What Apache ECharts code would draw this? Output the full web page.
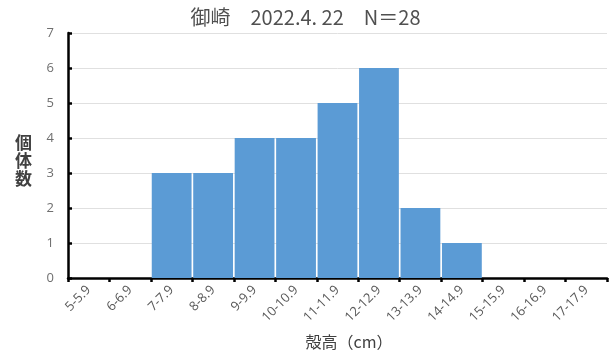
<!DOCTYPE html>
<html>
<head>
<meta charset="utf-8">
<script src="https://cdn.jsdelivr.net/npm/echarts@6/dist/echarts.min.js"></script>
<style>
  html, body { margin: 0; padding: 0; background: #fff; }
  #chart { width: 611px; height: 358px; }
</style>
</head>
<body>
<div id="chart"></div>
<script>
// Shell height classes (cm) and the number of individuals in each
const sizeClasses = ['5-5.9', '6-6.9', '7-7.9', '8-8.9', '9-9.9', '10-10.9', '11-11.9',
  '12-12.9', '13-13.9', '14-14.9', '15-15.9', '16-16.9', '17-17.9'];
const counts = [0, 0, 3, 3, 4, 4, 5, 6, 2, 1, 0, 0, 0];
const titleText = '御崎　2022.4. 22　N＝28';
const xAxisName = '殻高（cm）';
const yAxisName = '個\n体\n数';

const fontFamily = '"Noto Sans CJK JP", "Noto Sans", sans-serif';
const chart = echarts.init(document.getElementById('chart'), null, { renderer: 'canvas' });

chart.setOption({
  animation: false,
  backgroundColor: '#ffffff',
  title: [{
    text: titleText,
    left: 'center',
    top: 2,
    textStyle: { fontFamily, fontSize: 20, fontWeight: 'normal', color: '#505050' }
  }, {
    // vertical y-axis caption, one character per line
    text: yAxisName,
    left: 10,
    top: 129,
    textStyle: { fontFamily, fontSize: 17, fontWeight: 'bold', color: '#404040', lineHeight: 18 }
  }],
  grid: { left: 68, right: 4, top: 33, bottom: 80 },
  xAxis: {
    type: 'category',
    data: sizeClasses,
    name: xAxisName,
    nameLocation: 'middle',
    nameGap: 56,
    nameTextStyle: { fontFamily, fontSize: 16, color: '#404040', padding: [0, 0, 0, 23] },
    axisLine: { lineStyle: { color: '#000', width: 2.5 } },
    axisTick: { show: true, alignWithLabel: false, length: 4, lineStyle: { color: '#000', width: 2.5 } },
    axisLabel: { rotate: 45, fontFamily: '"Open Sans", sans-serif', fontSize: 13, color: '#595959', margin: 10, interval: 0 }
  },
  yAxis: {
    type: 'value',
    min: 0,
    max: 7,
    interval: 1,
    axisLine: { show: true, lineStyle: { color: '#000', width: 2.5 } },
    axisTick: { show: true, inside: true, length: 4, lineStyle: { color: '#000', width: 2.5 } },
    axisLabel: { fontFamily: '"Open Sans", sans-serif', fontSize: 13, color: '#6f6f6f', margin: 14 },
    splitLine: { lineStyle: { color: '#e0e0e0', width: 1 } }
  },
  series: [{
    type: 'bar',
    data: counts,
    barCategoryGap: '4%',
    itemStyle: { color: '#5B9BD5' }
  }]
});
</script>
</body>
</html>
